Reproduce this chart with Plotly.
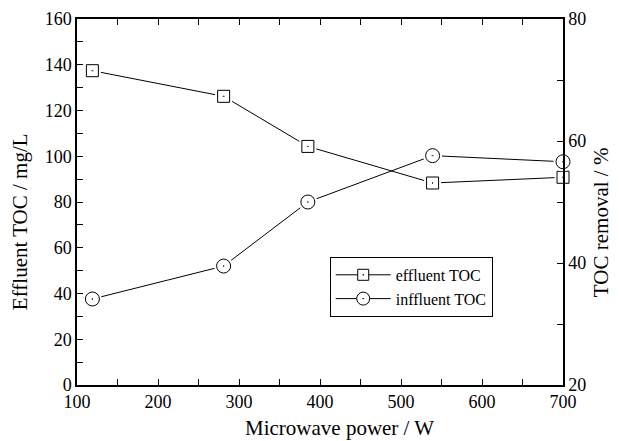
import plotly.graph_objects as go

power = [119, 281, 385, 539, 700]
effluent_toc = [137.4, 126.2, 104.3, 88.3, 90.8]
toc_removal = [34.1, 39.5, 50.0, 57.6, 56.6]

FONT = "Liberation Serif, Times New Roman, serif"

fig = go.Figure()

def add_series(x, y, axis, symbol, size, name):
    fig.add_trace(go.Scatter(x=x, y=y, yaxis=axis, mode="lines",
                             line=dict(color="black", width=1), showlegend=False,
                             cliponaxis=False, hoverinfo="skip"))
    fig.add_trace(go.Scatter(x=x, y=y, yaxis=axis, mode="markers",
                             marker=dict(symbol=symbol.replace("-dot", ""), size=size + 5,
                                         color="white", line=dict(width=0)),
                             showlegend=False, cliponaxis=False, hoverinfo="skip"))
    fig.add_trace(go.Scatter(x=x, y=y, yaxis=axis, mode="markers",
                             marker=dict(symbol=symbol, size=size, color="white",
                                         line=dict(color="black", width=1)),
                             showlegend=False, cliponaxis=False, name=name))
    fig.add_trace(go.Scatter(x=[None], y=[None], yaxis=axis, mode="lines+markers",
                             line=dict(color="black", width=1),
                             marker=dict(symbol=symbol, size=size - 1, color="white",
                                         line=dict(color="black", width=1)),
                             name=name, showlegend=True))

add_series(power, effluent_toc, "y", "square-dot", 12, "effluent TOC")
add_series(power, toc_removal, "y2", "circle-dot", 14, "inffluent TOC")

x_title = "Microwave power / W"
y_title = "Effluent TOC / mg/L"
y2_title = "TOC removal / %"

fig.update_layout(
    width=611, height=433,
    margin=dict(l=69, r=56, t=11, b=56),
    paper_bgcolor="white", plot_bgcolor="white",
    font=dict(family=FONT, size=18, color="black"),
    showlegend=True,
    legend=dict(x=0.52, y=0.35, xanchor="left", yanchor="top",
                bordercolor="black", borderwidth=1, bgcolor="white",
                font=dict(family=FONT, size=16), tracegroupgap=0,
                itemwidth=55),
    xaxis=dict(range=[100, 700], dtick=100, tick0=100, automargin=False,
               ticks="inside", ticklen=6, tickwidth=1, tickcolor="black",
               minor=dict(dtick=50, ticks="inside", ticklen=6, tickcolor="black"),
               showline=True, linecolor="black", linewidth=1.5, mirror="ticks",
               showgrid=False, zeroline=False),
    yaxis=dict(range=[0, 160], dtick=20, automargin=False,
               ticks="inside", ticklen=6, tickwidth=1, tickcolor="black",
               minor=dict(dtick=10, ticks="inside", ticklen=6, tickcolor="black"),
               showline=True, linecolor="black", linewidth=1.5,
               showgrid=False, zeroline=False),
    yaxis2=dict(range=[20, 80], dtick=20, overlaying="y", side="right", automargin=False,
                ticks="inside", ticklen=6, tickwidth=1, tickcolor="black",
                minor=dict(dtick=10, ticks="inside", ticklen=6, tickcolor="black"),
                showline=True, linecolor="black", linewidth=1.5,
                showgrid=False, zeroline=False),
    annotations=[
        dict(text=x_title, xref="paper", yref="paper", x=0.541, y=0, yshift=-43,
             xanchor="center", yanchor="middle", showarrow=False, font=dict(size=21)),
        dict(text=y_title, xref="paper", yref="paper", x=0, y=0.445, xshift=-57,
             xanchor="center", yanchor="middle", textangle=-90, showarrow=False,
             font=dict(size=21)),
        dict(text=y2_title, xref="paper", yref="paper", x=1, y=0.445, xshift=38,
             xanchor="center", yanchor="middle", textangle=-90, showarrow=False,
             font=dict(size=21)),
    ],
)

fig.write_html("out.html")
